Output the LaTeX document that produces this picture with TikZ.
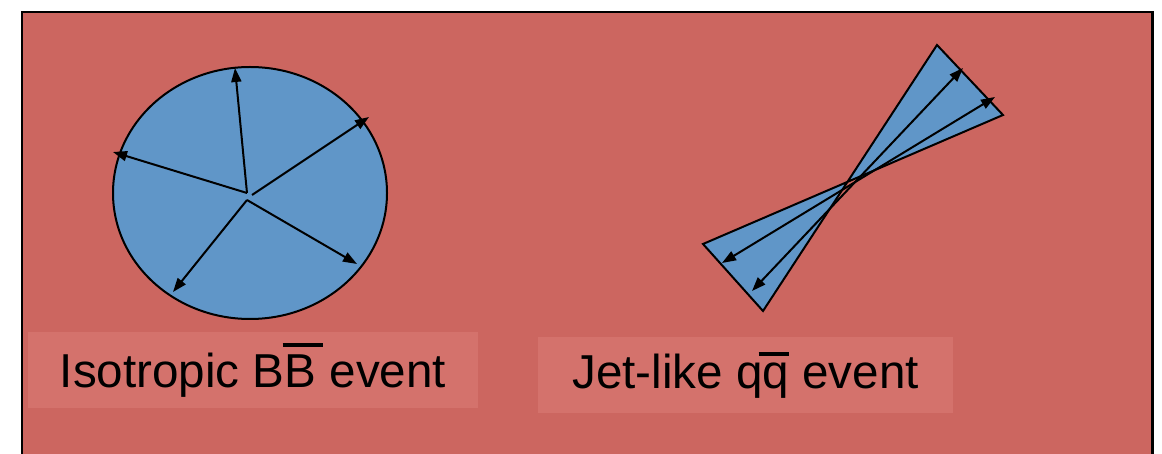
\documentclass[tikz,border=0pt]{standalone}
\usepackage{fontspec}
\setmainfont{Liberation Sans}
\usetikzlibrary{arrows.meta}

\definecolor{slide}{RGB}{204,102,96}
\definecolor{labelbg}{RGB}{212,114,108}
\definecolor{event}{RGB}{96,150,200}

% overline drawn above a letter: #1 raise, #2 left overhang, #3 extra width, #4 letter
\newcommand\barover[4]{\setbox0\hbox{#4}%
  \rlap{\hspace{-#2}\raisebox{#1}{\rule{\dimexpr\wd0+#3\relax}{4.5pt}}}\box0\relax}

\tikzset{
  tip/.tip={Triangle[length=14pt,width=10pt]},
  track/.style={line width=2pt, tip-tip},
  ray/.style={line width=2pt, -tip},
  blob/.style={fill=event, draw=black, line width=2pt, line join=miter},
  caption/.style={fill=labelbg, inner sep=0pt, font=\fontsize{47.6}{57}\selectfont, text=black}
}

\begin{document}
\begin{tikzpicture}[x=1pt,y=-1pt]
  \useasboundingbox (0,0) rectangle (1162,454);
  \fill[white] (0,0) rectangle (1162,454);
  % slide background
  \begin{scope}
    \clip (0,0) rectangle (1162,454);
    \draw[fill=slide, line width=2.5pt] (22,12) rectangle (1152.5,480);
  \end{scope}

  % isotropic event: sphere with tracks from the centre
  \draw[blob] (250,193) ellipse [x radius=137pt, y radius=126pt];
  \coordinate (o1) at (247,193);
  \coordinate (o2) at (252,195);
  \coordinate (o3) at (247,200);
  \coordinate (up) at (235,68);
  \coordinate (ur) at (369,117);
  \coordinate (lf) at (113,152);
  \coordinate (lr) at (357,264);
  \coordinate (ll) at (173,292);
  \draw[ray] (o1) -- (up);
  \draw[ray] (o1) -- (lf);
  \draw[ray] (o2) -- (ur);
  \draw[ray] (o3) -- (lr);
  \draw[ray] (o3) -- (ll);

  % jet-like event: two back-to-back cones
  \draw[blob] (937,45) -- (1003,115) -- (703,244) -- (763,311) -- cycle;
  \coordinate (j1a) at (963,68);
  \coordinate (j1b) at (752,291);
  \coordinate (j2a) at (995,97);
  \coordinate (j2b) at (722,263);
  \draw[track] (j1b) -- (j1a);
  \draw[track] (j2b) -- (j2a);

  % captions
  \node[caption, minimum width=450pt, minimum height=76pt] (capB) at (253,370)
    {Isotropic B\barover{40pt}{2pt}{9pt}{B} event};
  \node[caption, minimum width=415pt, minimum height=76pt] (capQ) at (745.5,375)
    {Jet-like q\barover{32pt}{4pt}{4pt}{q} event};
\end{tikzpicture}
\end{document}
